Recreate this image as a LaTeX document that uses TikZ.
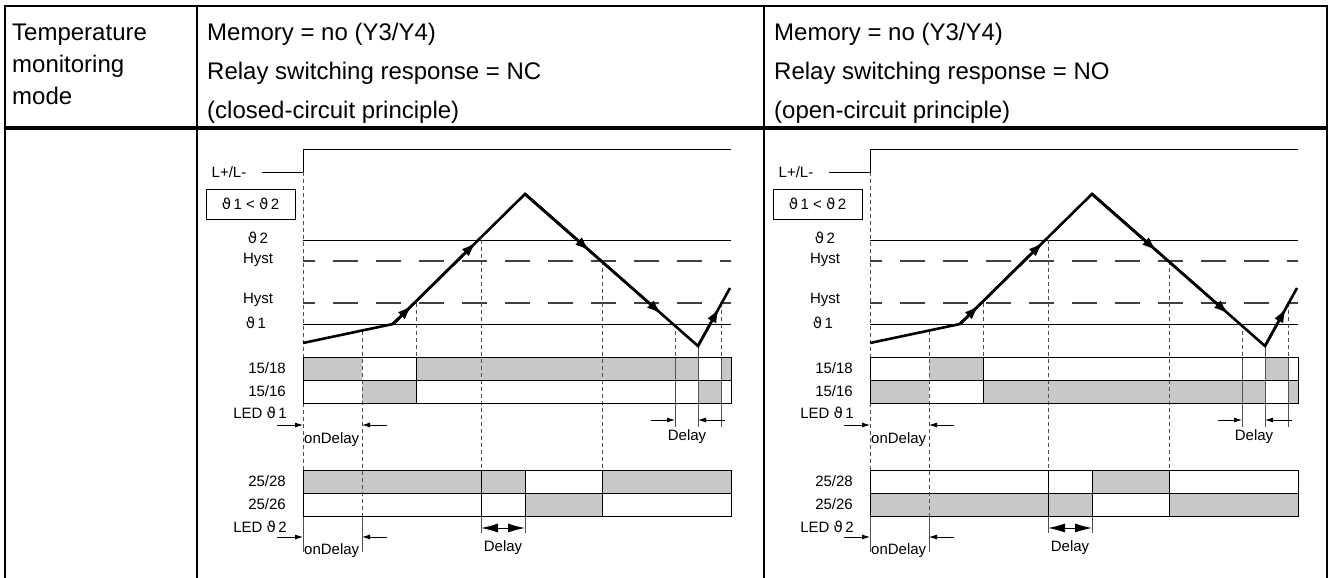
\documentclass[tikz,border=0pt]{standalone}
\usepackage{fontspec}
\setmainfont{Liberation Sans}
\newfontfamily\thetafont{DejaVu Sans}
\usepackage{tikz}
\usetikzlibrary{positioning}
\usetikzlibrary{arrows,arrows.meta,shapes}
\usetikzlibrary{calc}
\definecolor{relaygrey}{RGB}{200,200,200}
\definecolor{guidegrey}{RGB}{80,80,80}
\newcommand{\tht}[1]{{\thetafont ϑ}\,#1}
\tikzstyle{tableline}=[draw,line width=2pt]
\tikzstyle{headrule}=[draw,line width=4pt]
\tikzstyle{headtext}=[font=\fontsize{24}{28}\selectfont,inner sep=0pt,anchor=base west]
\tikzstyle{sigtext}=[font=\fontsize{15}{18}\selectfont,inner sep=0pt]
\tikzstyle{setpoint}=[draw,line width=1pt]
\tikzstyle{hyst}=[draw,black!75,line width=1.3pt,dash pattern=on 25pt off 18pt,dash phase=13pt]
\tikzstyle{guide}=[draw,guidegrey,line width=0.8pt,dash pattern=on 4pt off 3pt]
\tikzstyle{extline}=[draw,guidegrey,line width=0.9pt]
\tikzstyle{contact}=[draw,line width=1pt]
\tikzstyle{temp}=[draw,line width=2.6pt]
\tikzstyle{temparrow}=[temp,-{Latex[length=15pt,width=10pt]}]
\tikzstyle{dimarrow}=[draw,line width=0.8pt,-{Latex[length=8pt,width=5pt]}]
\tikzstyle{delayarrow}=[draw,line width=1pt,{Latex[length=17pt,width=9pt]}-{Latex[length=17pt,width=9pt]}]

\begin{document}
\begin{tikzpicture}[x=1pt,y=-1pt]
  \useasboundingbox (0,0) rectangle (1330,578);

  % table
  \draw[tableline] (5,578) -- (5,6) -- (1327,6) -- (1327,578);
  \draw[tableline] (197,6) -- (197,578);
  \draw[tableline] (764,6) -- (764,578);
  \draw[headrule] (4,128) -- (1328,128);

  \node[headtext] (mode1) at (12,41) {Temperature};
  \node[headtext] (mode2) at (12,72) {monitoring};
  \node[headtext] (mode3) at (12,104) {mode};
  \node[headtext] (nc1) at (207,41) {Memory = no (Y3/Y4)};
  \node[headtext] (nc2) at (207,79) {Relay switching response = NC};
  \node[headtext] (nc3) at (207,118) {(closed-circuit principle)};
  \node[headtext] (no1) at (774,41) {Memory = no (Y3/Y4)};
  \node[headtext] (no2) at (774,79) {Relay switching response = NO};
  \node[headtext] (no3) at (774,118) {(open-circuit principle)};

  % contact states: NC on the left, NO on the right
  \foreach \dx/\xa/\xb/\ya/\yb in {0/303/362/357/380, 0/416/698/357/380, 0/721/731/357/380,
      0/362/416/380/403, 0/698/721/380/403, 0/303/525/470/493, 0/602/731/470/493, 0/525/602/493/516,
      567/362/416/357/380, 567/698/721/357/380, 567/303/362/380/403, 567/416/698/380/403,
      567/721/731/380/403, 567/525/602/470/493, 567/303/525/493/516, 567/602/731/493/516}
    \fill[relaygrey] (\xa+\dx,\ya) rectangle (\xb+\dx,\yb);

  \foreach \dx/\pre in {0/L, 567/R} {
    % supply and limit values
    \node[sigtext] (\pre-supply) at (229+\dx,172) {L+/L-};
    \draw[setpoint] (262+\dx,172) -- (303+\dx,172) -- (303+\dx,149) -- (731+\dx,149);
    \node[sigtext,draw,line width=1pt,minimum width=89pt,minimum height=30pt] (\pre-cond) at (250.5+\dx,204) {\tht1 < \tht2};
    \node[sigtext] (\pre-hi) at (258+\dx,238) {\tht2};
    \node[sigtext] (\pre-hihyst) at (258+\dx,260) {Hyst};
    \node[sigtext] (\pre-lohyst) at (258+\dx,300) {Hyst};
    \node[sigtext] (\pre-lo) at (256+\dx,323) {\tht1};
    \draw[setpoint] (303+\dx,240) -- (731+\dx,240);
    \draw[hyst] (303+\dx,261) -- (731+\dx,261);
    \draw[hyst] (303+\dx,303) -- (731+\dx,303);
    \draw[setpoint] (303+\dx,324) -- (731+\dx,324);

    % guide lines
    \foreach \x/\ya/\yb in {303/172/552, 362/331/552, 416/303/357, 481/240/470, 602/261/470, 675/324/357, 721/303/357}
      \draw[guide] (\x+\dx,\ya) -- (\x+\dx,\yb);
    \foreach \x/\ya/\yb in {675/357/427, 698/346/427, 721/357/427, 481/470/533, 525/470/533, 303/516/552, 362/516/552}
      \draw[extline] (\x+\dx,\ya) -- (\x+\dx,\yb);

    % relay bars
    \node[sigtext,anchor=east] (\pre-k18) at (286+\dx,368) {15/18};
    \node[sigtext,anchor=east] (\pre-k16) at (286+\dx,391) {15/16};
    \node[sigtext,anchor=east] (\pre-led1) at (287+\dx,413) {LED \tht1};
    \node[sigtext,anchor=east] (\pre-k28) at (286+\dx,481) {25/28};
    \node[sigtext,anchor=east] (\pre-k26) at (286+\dx,504) {25/26};
    \node[sigtext,anchor=east] (\pre-led2) at (287+\dx,527) {LED \tht2};
    \draw[contact] (303+\dx,357) rectangle (731+\dx,403);
    \draw[contact] (303+\dx,380) -- (731+\dx,380);
    \draw[contact] (303+\dx,470) rectangle (731+\dx,516);
    \draw[contact] (303+\dx,493) -- (731+\dx,493);
    \foreach \x/\ya/\yb in {416/357/403, 481/470/516, 525/470/516, 602/470/516}
      \draw[contact] (\x+\dx,\ya) -- (\x+\dx,\yb);

    % delays
    \draw[dimarrow] (277+\dx,425) -- (303+\dx,425);
    \draw[dimarrow] (387+\dx,425) -- (362+\dx,425);
    \node[sigtext,anchor=west] (\pre-ondelay1) at (304+\dx,440) {onDelay};
    \draw[dimarrow] (651+\dx,420) -- (675+\dx,420);
    \draw[dimarrow] (725+\dx,420) -- (698+\dx,420);
    \node[sigtext] (\pre-delay1) at (687+\dx,437) {Delay};
    \draw[dimarrow] (277+\dx,537) -- (303+\dx,537);
    \draw[dimarrow] (387+\dx,537) -- (362+\dx,537);
    \node[sigtext,anchor=west] (\pre-ondelay2) at (304+\dx,551) {onDelay};
    \draw[delayarrow] (481+\dx,528) -- (525+\dx,528);
    \node[sigtext] (\pre-delay2) at (503+\dx,548) {Delay};

    % temperature curve
    \coordinate (\pre-t0) at (303+\dx,343);
    \coordinate (\pre-t1) at (393+\dx,324);
    \coordinate (\pre-t2) at (525+\dx,194);
    \coordinate (\pre-t3) at (698+\dx,346);
    \coordinate (\pre-t4) at (730+\dx,288);
    \draw[temp] (\pre-t0) -- (\pre-t1) -- (\pre-t2) -- (\pre-t3) -- (\pre-t4);
    \draw[temparrow] (\pre-t1) -- ($(\pre-t1)!0.145!(\pre-t2)$);
    \draw[temparrow] (\pre-t1) -- ($(\pre-t1)!0.63!(\pre-t2)$);
    \draw[temparrow] (\pre-t2) -- ($(\pre-t2)!0.375!(\pre-t3)$);
    \draw[temparrow] (\pre-t2) -- ($(\pre-t2)!0.79!(\pre-t3)$);
    \draw[temparrow] (\pre-t3) -- ($(\pre-t3)!0.66!(\pre-t4)$);
  }
\end{tikzpicture}
\end{document}
